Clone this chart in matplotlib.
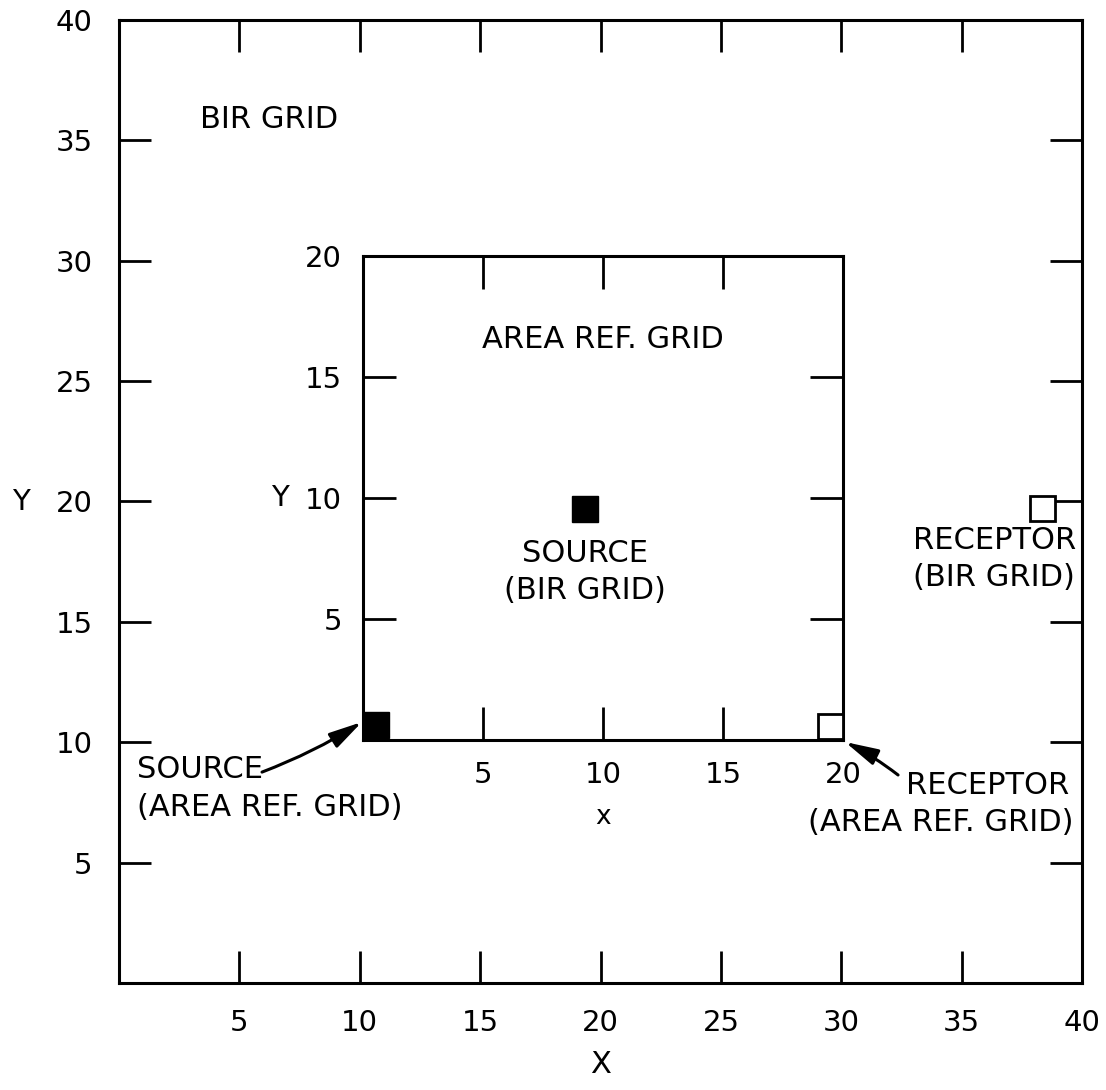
import matplotlib
matplotlib.use('Agg')
from matplotlib import pyplot as plt

# outer (BIR) grid
outer_ticks = [5, 10, 15, 20, 25, 30, 35, 40]
outer_lim = (0, 40)
# inner (area reference) grid, sits at outer 10..30
inner_ticks = [5, 10, 15, 20]
inner_lim = (0, 20)

# markers in outer coordinates
src_x = [19.36, 10.67]
src_y = [19.69, 10.72]
rec_x = [29.53, 38.34]
rec_y = [10.67, 19.73]

# labels: text, x, y, ha (outer coordinates)
labels = [
    ("BIR GRID", 3.36, 35.85, "left"),
    ("AREA REF. GRID", 20.1, 26.71, "center"),
    ("SOURCE", 19.36, 17.86, "center"),
    ("(BIR GRID)", 19.36, 16.32, "center"),
    ("RECEPTOR", 32.98, 18.4, "left"),
    ("(BIR GRID)", 32.98, 16.86, "left"),
    ("SOURCE", 0.75, 8.85, "left"),
    ("(AREA REF. GRID)", 0.75, 7.27, "left"),
    ("RECEPTOR", 32.7, 8.22, "left"),
    ("(AREA REF. GRID)", 28.62, 6.65, "left"),
]
# arrows: (start xy, end xy)
arrows = [((5.94, 8.76), (10.09, 10.84)), ((32.36, 8.64), (30.16, 10.01))]

fs = 21
fig = plt.figure(figsize=(11.06, 10.90), dpi=100)
ax = fig.add_axes([119/1106, (1090-983)/1090, 963/1106, 963/1090])
inner = fig.add_axes([363/1106, (1090-740)/1090, 480/1106, 484/1090])
ax.set_zorder(2)
inner.set_zorder(1)
ax.set_facecolor('none')
inner.set_facecolor('none')

for a, ticks, lim, tl, pad in [(ax, outer_ticks, outer_lim, 23, 19), (inner, inner_ticks, inner_lim, 24, 15)]:
    a.set_xlim(lim)
    a.set_ylim(lim)
    a.set_xticks(ticks)
    a.set_yticks(ticks)
    a.set_xticklabels([str(t) for t in ticks])
    a.set_yticklabels([str(t) for t in ticks])
    a.tick_params(direction='in', length=tl, width=2, top=True, right=True,
                  labelsize=fs, pad=pad, color='black')
    for s in a.spines.values():
        s.set_linewidth(2.2)

ax.set_xlabel('X', fontsize=fs + 1, va='center')
ax.xaxis.set_label_coords(0.5, -0.085)
ax.set_ylabel('Y', fontsize=fs, rotation=0, va='center', ha='center')
ax.yaxis.set_label_coords(-0.102, 0.5)
inner.set_xlabel('x', fontsize=fs - 2, va='center')
inner.xaxis.set_label_coords(0.5, -0.16)
inner.set_ylabel('Y', fontsize=fs, rotation=0, va='center', ha='center')
inner.yaxis.set_label_coords(-0.173, 0.5)

ax.plot(src_x, src_y, 's', ms=19, color='black', mec='black', ls='none', clip_on=False)
ax.plot(rec_x, rec_y, 's', ms=18, mfc='white', mec='black', mew=2, ls='none', clip_on=False)

for t, x, y, ha in labels:
    ax.text(x, y, t, fontsize=fs + 1, ha=ha, va='center')

for (x0, y0), (x1, y1) in arrows:
    ax.annotate('', xy=(x1, y1), xytext=(x0, y0),
                arrowprops=dict(arrowstyle='-|>,head_length=2.0,head_width=0.5',
                                color='black', lw=2.2, connectionstyle='arc3,rad=0.05',
                                shrinkA=0, shrinkB=0))

fig.savefig('out.png', dpi=100)
